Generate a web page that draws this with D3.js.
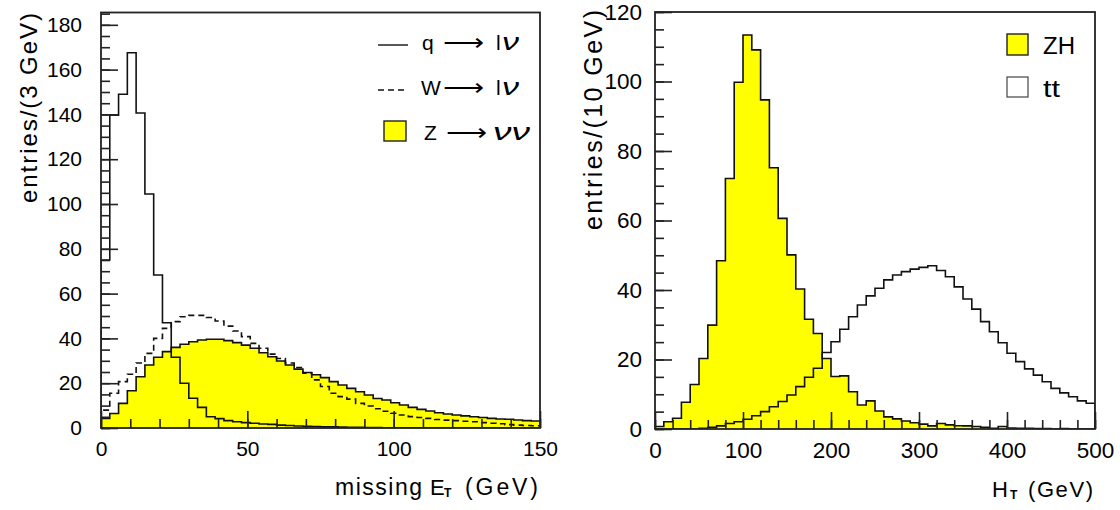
<!DOCTYPE html>
<html><head><meta charset="utf-8">
<script src="https://cdn.jsdelivr.net/npm/d3@7"></script>
<style>
body{margin:0;background:#fff}
text{font-family:"Liberation Sans",Arial,sans-serif;fill:#000}
</style>
</head><body>
<svg id="c" width="1120" height="510"></svg>
<script>
// ---------- data ----------
const metBinWidth = 3;   // GeV per bin, left panel
const htBinWidth = 10;   // GeV per bin, right panel

const qToLnu = [75,139.7,149,167.5,140.6,104.5,68.3,47,31.6,20,13.3,9.2,5.0,4.2,3.3,2.8,2.4,2.1,1.8,1.6,1.3,1.1,0.9,0.8,0.7,0.5,0.5,0.4,0.3,0.3,0.2,0.15,0.1,0.1,0.1,0.05,0.05,0,0,0,0,0,0,0,0,0,0,0,0,0];
const wToLnu = [8,15.5,20.7,24,29,33.3,40,44.5,47.5,49.7,50.3,50.3,49.3,47.8,45.5,43.3,40.8,37.8,35.6,33,31,29,27,24.5,21.5,18.5,15.5,14,12.9,11,9.8,8.6,7.5,6.6,5.8,5.1,4.7,4.3,3.8,3.5,3.3,3.0,2.8,2.4,2.1,1.9,1.5,1.3,1.1,1.0];
const zToNuNu = [4.3,6.5,11,16.6,22.9,28.1,31.6,34.1,36,37.4,38.5,39.3,39.6,39.6,39,38.1,37,35.6,33.6,31.8,29.9,28.1,26.3,24.8,23.8,22.5,20.7,19.2,17.7,16.2,14.7,13.2,12.5,11.3,10.3,9.2,8.3,7.6,6.8,6.25,5.8,5.4,5.0,4.7,4.3,4.0,3.9,3.6,3.3,3.1];

const zhHT = [0.7,2.1,3.1,7.7,12.8,20.3,29.9,48.4,72.1,99.8,113.4,109.1,94.7,75.2,60.6,50.1,40.3,31.6,27.5,20.3,15.1,15.3,10.7,6.9,8.1,5.2,3.5,2.9,2.3,1.8,1.4,0.9,1.6,1.2,0.95,0.9,0.7,0.5,0.2,0.7,0.3,0.2,0.2,0.1,0.1,0,0.1,0,0,0];
const ttHT = [0,0,0,0,0,0.2,0.5,0.9,1.6,2.1,2.8,3.8,5.0,6.4,7.9,9.8,12.2,14.9,17.5,22,25.1,28.7,32.3,35.7,38.3,40.5,42.9,44.3,45.3,46.0,46.5,47.0,45.6,43.8,40.9,37.4,34.5,30.9,28.0,24.8,21.8,19.4,17.3,15.5,13.6,11.7,10.4,9.3,8.1,7.4];

const leftXTicks = [0,50,100,150];
const leftYTicks = [0,20,40,60,80,100,120,140,160,180];
const rightXTicks = [0,100,200,300,400,500];
const rightYTicks = [0,20,40,60,80,100,120];

// ---------- drawing ----------
const svg = d3.select("#c");

function stepPts(vals, w){
  const p = [[0,0]];
  vals.forEach((v,i)=>p.push([i*w, v]));
  p.push([vals.length*w, vals[vals.length-1]]);
  p.push([vals.length*w, 0]);
  return p;
}

function panel(cfg){
  const x = d3.scaleLinear().domain(cfg.xDomain).range(cfg.xRange);
  const y = d3.scaleLinear().domain(cfg.yDomain).range(cfg.yRange);
  const g = svg.append("g");
  const clipId = "clip" + cfg.id;
  svg.append("clipPath").attr("id", clipId).append("rect")
    .attr("x", cfg.xRange[0]).attr("y", cfg.yRange[1])
    .attr("width", cfg.xRange[1]-cfg.xRange[0]).attr("height", cfg.yRange[0]-cfg.yRange[1]);
  const plot = g.append("g").attr("clip-path", `url(#${clipId})`);
  const line = d3.line().x(d=>x(d[0])).y(d=>y(d[1])).curve(d3.curveStepAfter);
  const area = d3.area().x(d=>x(d[0])).y0(y(0)).y1(d=>y(d[1])).curve(d3.curveStepAfter);
  cfg.series.forEach(s=>{
    const pts = stepPts(s.values, s.bin);
    if (s.fill) plot.append("path").attr("d", area(pts)).attr("fill", s.fill).attr("stroke","none");
  });
  cfg.series.forEach(s=>{
    const pts = stepPts(s.values, s.bin);
    plot.append("path").attr("d", line(pts)).attr("fill","none")
      .attr("stroke","#111").attr("stroke-width",1.6)
      .attr("stroke-dasharray", s.dash || null);
  });
  const yMinor = d3.range(cfg.yDomain[0], cfg.yDomain[1]+0.001, cfg.yMinorStep);
  const xMinor = d3.range(cfg.xDomain[0], cfg.xDomain[1]+0.001, cfg.xMinorStep);
  const ax = (sel)=>{sel.select(".domain").remove(); sel.selectAll("line").attr("stroke","#222").attr("stroke-width",1.6);};
  const lab = (s)=>s.selectAll("text").attr("font-size",cfg.fs).attr("font-family","Liberation Sans, Arial, sans-serif").attr("fill","#000");
  g.append("g").attr("transform",`translate(${cfg.xRange[0]},0)`)
    .call(d3.axisLeft(y).tickValues(yMinor).tickSize(-9).tickFormat(""))
    .call(ax);
  g.append("g").attr("transform",`translate(${cfg.xRange[0]},0)`)
    .call(d3.axisLeft(y).tickValues(cfg.yTicks).tickSize(-17).tickPadding(cfg.yPad).tickFormat(d3.format("d")))
    .call(ax).call(lab);
  g.append("g").attr("transform",`translate(0,${cfg.yRange[0]})`)
    .call(d3.axisBottom(x).tickValues(xMinor).tickSize(-9).tickFormat(""))
    .call(ax);
  g.append("g").attr("transform",`translate(0,${cfg.yRange[0]})`)
    .call(d3.axisBottom(x).tickValues(cfg.xTicks).tickSize(-17).tickPadding(12).tickFormat(d3.format("d")))
    .call(ax).call(lab)
    .call(s=>s.selectAll("text").attr("dy","0.71em").attr("y",13));
  g.append("rect").attr("x",cfg.xRange[0]).attr("y",cfg.yRange[1])
    .attr("width",cfg.xRange[1]-cfg.xRange[0]).attr("height",cfg.yRange[0]-cfg.yRange[1])
    .attr("fill","none").attr("stroke","#222").attr("stroke-width",1.8);
  return {x,y,g};
}

panel({id:"L", xDomain:[0,150], xRange:[101,540], yDomain:[0,185.5], yRange:[428,12.5],
  yTicks:leftYTicks, xTicks:leftXTicks, yMinorStep:5, xMinorStep:10, yPad:19, fs:21,
  series:[
    {values:zToNuNu, bin:metBinWidth, fill:"#ffff00"},
    {values:qToLnu, bin:metBinWidth},
    {values:wToLnu, bin:metBinWidth, dash:"6,4"}
  ]});
panel({id:"R", xDomain:[0,500], xRange:[655,1095], yDomain:[0,120], yRange:[429,12],
  yTicks:rightYTicks, xTicks:rightXTicks, yMinorStep:5, xMinorStep:20, yPad:13, fs:22.5,
  series:[
    {values:zhHT, bin:htBinWidth, fill:"#ffff00"},
    {values:ttHT, bin:htBinWidth}
  ]});

const SG = "spacingAndGlyphs", SP = "spacing";
// axis titles
svg.append("text").attr("transform","translate(36.5,203) rotate(-90)")
  .attr("font-size",24).attr("textLength",190).attr("lengthAdjust",SP).text("entries/(3 GeV)");
svg.append("text").attr("transform","translate(602,230) rotate(-90)")
  .attr("font-size",25).attr("textLength",220).attr("lengthAdjust",SP).text("entries/(10 GeV)");

svg.append("text").attr("x",335).attr("y",495).attr("font-size",23).attr("textLength",87).attr("lengthAdjust",SP).text("missing");
svg.append("text").attr("x",430).attr("y",495).attr("font-size",22).text("E");
svg.append("text").attr("x",444).attr("y",497).attr("font-size",12).attr("font-weight","bold").text("T");
svg.append("text").attr("x",465).attr("y",495).attr("font-size",23).attr("textLength",73).attr("lengthAdjust",SP).text("(GeV)");

svg.append("text").attr("x",992).attr("y",496.5).attr("font-size",22).text("H");
svg.append("text").attr("x",1010).attr("y",498.5).attr("font-size",12).attr("font-weight","bold").text("T");
svg.append("text").attr("x",1028).attr("y",496.5).attr("font-size",22).attr("textLength",65).attr("lengthAdjust",SP).text("(GeV)");

// left legend
const legL = svg.append("g");
legL.append("line").attr("x1",378).attr("x2",408).attr("y1",45).attr("y2",45).attr("stroke","#111").attr("stroke-width",1.4);
legL.append("line").attr("x1",378).attr("x2",408).attr("y1",90).attr("y2",90).attr("stroke","#111").attr("stroke-width",1.4).attr("stroke-dasharray","6,4");
legL.append("rect").attr("x",384).attr("y",121).attr("width",22).attr("height",20).attr("fill","#ffff00").attr("stroke","#222").attr("stroke-width",1.4);
const arrow = (x, yb)=>legL.append("text").attr("x",x).attr("y",yb).attr("font-size",21).attr("font-family","DejaVu Sans")
    .attr("textLength",41).attr("lengthAdjust",SG).text("\u27F6");
const nu = (x, yb, t, len)=>legL.append("text").attr("x",x).attr("y",yb).attr("font-size",24).attr("font-family","Liberation Serif")
    .attr("font-style","italic").attr("textLength",len).attr("lengthAdjust",SG).text(t);
legL.append("text").attr("x",422).attr("y",50).attr("font-size",21).text("q");
arrow(443,50);
legL.append("text").attr("x",496).attr("y",50).attr("font-size",21).text("l");
nu(502,50,"\u03BD",17);
legL.append("text").attr("x",421).attr("y",95).attr("font-size",21).text("W");
arrow(443,95);
legL.append("text").attr("x",496).attr("y",95).attr("font-size",21).text("l");
nu(502,95,"\u03BD",17);
legL.append("text").attr("x",424).attr("y",140).attr("font-size",21).text("Z");
arrow(446,140);
nu(493,140,"\u03BD\u03BD",37);

// right legend
const legR = svg.append("g");
legR.append("rect").attr("x",1007).attr("y",34).attr("width",21).attr("height",21).attr("fill","#ffff00").attr("stroke","#222").attr("stroke-width",1.4);
legR.append("rect").attr("x",1007).attr("y",77).attr("width",21).attr("height",20).attr("fill","#fff").attr("stroke","#444").attr("stroke-width",1.2);
legR.append("text").attr("x",1043).attr("y",53.5).attr("font-size",23).attr("textLength",32).attr("lengthAdjust",SG).text("ZH");
legR.append("text").attr("x",1043).attr("y",96.5).attr("font-size",23).attr("textLength",17).attr("lengthAdjust",SG).text("tt");
</script>
</body></html>
